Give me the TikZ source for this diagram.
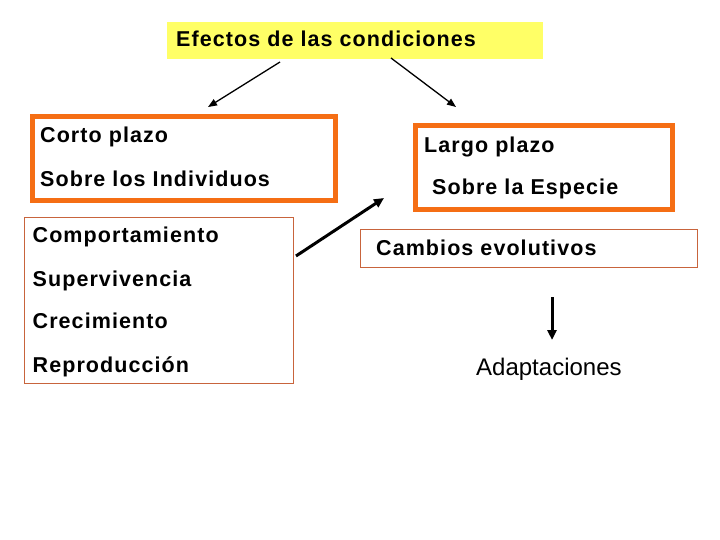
\documentclass[tikz,border=0pt]{standalone}
\usepackage{fontspec}
\setmainfont{Liberation Sans}
\usetikzlibrary{arrows.meta}
\usetikzlibrary{positioning}
\definecolor{myellow}{RGB}{255,255,102}
\definecolor{morange}{RGB}{245,110,20}
\definecolor{mbrown}{RGB}{200,100,60}
\tikzset{rotulo/.style = {anchor=base west, inner sep=0pt,
                          font=\fontsize{21.5}{25}\selectfont\bfseries\addfontfeatures{LetterSpace=5}},
         marco/.style = {draw=morange, line width=5pt},
         lista/.style = {draw=mbrown, line width=0.8pt},
         flecha/.style = {-{Triangle[length=9pt,width=7pt]}, line width=1.3pt},
         gruesa/.style = {-{Triangle[length=10pt,width=9pt]}, line width=3pt}}

\begin{document}
\begin{tikzpicture}[x=1pt, y=-1pt]
      \useasboundingbox [fill=white] (0, 0) rectangle (720, 540);

      \fill [myellow] (167, 22) rectangle (543, 59);
      \node [rotulo] (titulo) at (176, 47) {Efectos de las condiciones};

      \draw [marco] (32.5, 116.5) rectangle (335.5, 200.5);
      \node [rotulo] (corto) at (40, 143) {Corto plazo};
      \node [rotulo] (indiv) at (40, 187) {Sobre los Individuos};

      \draw [lista] (24, 217) rectangle (293, 383);
      \foreach \t/\y [count=\n] in {Comportamiento/243, Supervivencia/286,
                                    Crecimiento/328, Reproducción/372}
        \node [rotulo] (item\n) at (32.5, \y) {\t};

      \draw [marco] (415.5, 126) rectangle (672.5, 209.5);
      \node [rotulo] (largo) at (424, 153) {Largo plazo};
      \node [rotulo] (especie) at (432, 195) {Sobre la Especie};

      \draw [lista] (360, 229) rectangle (697, 267);
      \node [rotulo] (cambios) at (376, 255) {Cambios evolutivos};

      \node [anchor=base west, inner sep=0pt, font=\fontsize{24}{28}\selectfont]
            (adapt) at (476, 375) {Adaptaciones};

      \coordinate (izq) at (280, 62);
      \coordinate (izqfin) at (208, 107);
      \coordinate (der) at (391, 58);
      \coordinate (derfin) at (456, 107);
      \coordinate (diag) at (296, 256);
      \coordinate (diagfin) at (384, 198);
      \coordinate (baja) at (552, 297);
      \coordinate (bajafin) at (552, 340);

      \draw [flecha] (izq) -- (izqfin);
      \draw [flecha] (der) -- (derfin);
      \draw [gruesa] (diag) -- (diagfin);
      \draw [gruesa] (baja) -- (bajafin);
    \end{tikzpicture}
\end{document}
